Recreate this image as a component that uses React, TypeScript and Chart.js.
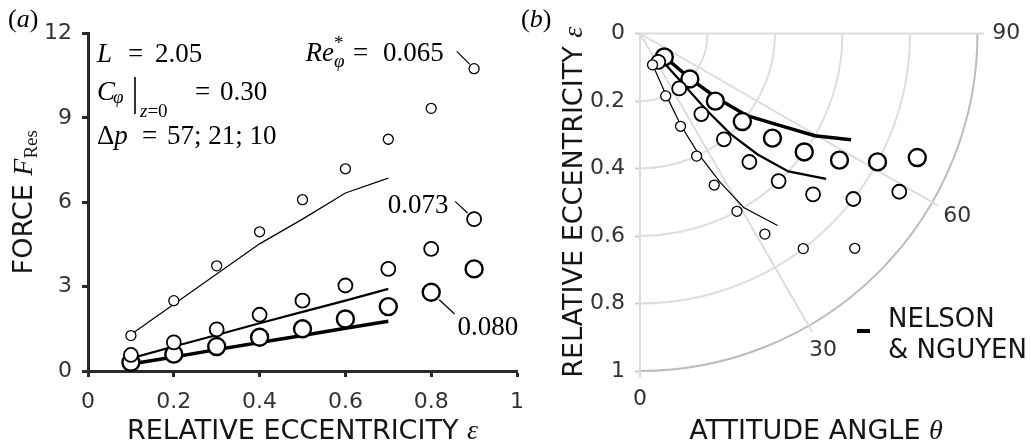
import React, { useEffect, useRef } from 'react';
import { Chart, registerables } from 'chart.js';

Chart.register(...registerables);

// ---------------- Panel (a): force vs relative eccentricity ----------------
const ECC = [0.1, 0.2, 0.3, 0.4, 0.5, 0.6, 0.7, 0.8, 0.9];
const F_RE065 = [1.26, 2.5, 3.74, 4.95, 6.09, 7.19, 8.24, 9.34, 10.75];
const F_RE073 = [0.57, 1.02, 1.48, 2.0, 2.5, 3.04, 3.63, 4.34, 5.4];
const F_RE080 = [0.31, 0.6, 0.87, 1.2, 1.5, 1.85, 2.29, 2.8, 3.63];
const NN_ECC = [0.1, 0.2, 0.3, 0.4, 0.5, 0.6, 0.7];
const NN_F_RE065 = [1.3, 2.37, 3.45, 4.52, 5.4, 6.33, 6.86];
const NN_F_RE073 = [0.45, 0.87, 1.28, 1.7, 2.1, 2.5, 2.92];
const NN_F_RE080 = [0.25, 0.5, 0.76, 1.01, 1.26, 1.52, 1.77];
const X_TICKS_A = [0, 0.2, 0.4, 0.6, 0.8, 1];
const Y_TICKS_A = [0, 3, 6, 9, 12];
const RE_LABELS = ['0.065', '0.073', '0.080'];

// ---------------- Panel (b): attitude angle (polar) ----------------
const THETA_RE065 = [21.8, 22.4, 23.6, 24.8, 26.1, 28.6, 31.9, 37.2, 45.0];
const THETA_RE073 = [32.8, 35.5, 37.3, 38.4, 40.4, 43.2, 47.1, 52.2, 58.6];
const THETA_RE080 = [46.0, 47.6, 48.1, 49.3, 51.7, 54.2, 57.6, 61.6, 65.9];
const NN_THETA_RE065 = [22.0, 23.0, 24.0, 26.0, 28.3, 30.8, 35.6];
const NN_THETA_RE073 = [39.0, 40.5, 41.0, 42.0, 44.2, 47.1, 52.0];
const NN_THETA_RE080 = [46.5, 48.0, 50.0, 52.5, 56.8, 59.7, 63.3];
const ECC_TICKS_B = [0, 0.2, 0.4, 0.6, 0.8, 1];
const ANGLE_TICKS_B = [0, 30, 60, 90];

const SANS = '"DejaVu Sans", Verdana, sans-serif';
const SERIF = '"Liberation Serif", "Times New Roman", serif';
const it = (s: number) => `italic ${s}px ${SERIF}`;
const rm = (s: number) => `${s}px ${SERIF}`;
const sans = (s: number) => `${s}px ${SANS}`;
const TICK_COLOR = '#333333';
const TITLE_COLOR = '#151515';

type Run = { t: string; font: string; dy?: number; dx?: number };
function runsWidth(ctx: CanvasRenderingContext2D, runs: Run[]) {
  let w = 0;
  for (const r of runs) {
    ctx.font = r.font;
    w += ctx.measureText(r.t).width + (r.dx || 0);
  }
  return w;
}
function drawRuns(ctx: CanvasRenderingContext2D, x: number, y: number, runs: Run[]) {
  let cx = x;
  for (const r of runs) {
    ctx.font = r.font;
    cx += r.dx || 0;
    ctx.fillText(r.t, cx, y + (r.dy || 0));
    cx += ctx.measureText(r.t).width;
  }
  return cx;
}

const pts = (xs: number[], ys: number[]) => xs.map((x, i) => ({ x, y: ys[i] }));
const polar = (eps: number[], th: number[]) =>
  eps.map((e, i) => ({ x: e * Math.sin((th[i] * Math.PI) / 180), y: e * Math.cos((th[i] * Math.PI) / 180) }));

const circleStyle = (size: 0 | 1 | 2) => {
  const r = [5, 7, 8.5][size];
  const w = [1.3, 1.8, 2.4][size];
  return {
    showLine: false,
    pointRadius: r,
    pointBorderWidth: w,
    pointBackgroundColor: '#ffffff',
    pointBorderColor: '#000000',
    backgroundColor: '#ffffff',
    borderColor: '#000000',
    clip: false as any,
    order: 0,
  };
};
const lineStyle = (size: 0 | 1 | 2) => ({
  showLine: true,
  pointRadius: 0,
  borderWidth: [1.2, 2.2, 3.5][size],
  borderColor: '#000000',
  backgroundColor: '#000000',
  fill: false,
  tension: 0,
  clip: false as any,
  order: 1,
});

const tickFont = { family: 'DejaVu Sans', size: 22 };
const plainLabel = (v: any) => String(v);

const annotPluginA = {
  id: 'annotA',
  afterDraw(chart: any) {
    const { ctx, chartArea: ca, scales } = chart;
    const xs = scales.x;
    const ys = scales.y;
    const L = ca.left;
    const T = ca.top;
    ctx.save();
    ctx.fillStyle = '#000';
    ctx.strokeStyle = '#000';
    ctx.textBaseline = 'alphabetic';
    ctx.textAlign = 'left';
    const put = (t: string, font: string, x: number, y: number) => {
      ctx.font = font;
      ctx.fillText(t, x, y);
    };
    // panel label
    drawRuns(ctx, 8, 27, [
      { t: '(', font: rm(26) },
      { t: 'a', font: it(26) },
      { t: ')', font: rm(26) },
    ]);
    // parameter block
    put('L', it(27), L + 9, T + 28.5);
    put('=', rm(27), L + 40, T + 28.5);
    put('2.05', rm(27), L + 67, T + 28.5);

    put('C', it(27), L + 9, T + 66.5);
    put('φ', it(19), L + 25, T + 69.5);
    ctx.lineWidth = 1.6;
    ctx.beginPath();
    ctx.moveTo(L + 47, T + 43.5);
    ctx.lineTo(L + 47, T + 80.5);
    ctx.stroke();
    drawRuns(ctx, L + 52, T + 83.5, [
      { t: 'z', font: it(19) },
      { t: '=0', font: rm(19) },
    ]);
    put('=', rm(27), L + 107, T + 66.5);
    put('0.30', rm(27), L + 132, T + 66.5);

    drawRuns(ctx, L + 9, T + 110.5, [
      { t: 'Δ', font: rm(27) },
      { t: 'p', font: it(27) },
    ]);
    put('=', rm(27), L + 54, T + 110.5);
    put('57; 21; 10', rm(27), L + 79, T + 110.5);

    // leader lines
    ctx.lineWidth = 1.2;
    const lead = (ev: number, fv: number, dx: number, dy: number, r0: number, r1: number) => {
      const cx = xs.getPixelForValue(ev);
      const cy = ys.getPixelForValue(fv);
      const n = Math.hypot(dx, dy);
      const ux = dx / n;
      const uy = dy / n;
      ctx.beginPath();
      ctx.moveTo(cx + ux * r0, cy + uy * r0);
      ctx.lineTo(cx + ux * r1, cy + uy * r1);
      ctx.stroke();
      return { x: cx + ux * r1, y: cy + uy * r1 };
    };
    const e1 = lead(ECC[8], F_RE065[8], -1, -1, 6, 24.5);
    const rx = e1.x - 8.7;
    const by = e1.y + 10;
    put(RE_LABELS[0], rm(27), rx - 65, by);
    put('=', rm(27), rx - 95, by);
    put('*', rm(19), rx - 114, by - 12);
    put('φ', it(19), rx - 114, by + 6);
    ctx.textAlign = 'right';
    put('Re', it(27), rx - 114, by);

    const e2 = lead(ECC[8], F_RE073[8], -0.73, -0.68, 9, 26);
    put(RE_LABELS[1], rm(27), e2.x - 6.7, e2.y + 12);
    ctx.textAlign = 'left';
    const e3 = lead(ECC[7], F_RE080[7], 0.73, 0.68, 11, 32);
    put(RE_LABELS[2], rm(27), e3.x + 3, e3.y + 21);

    // axis titles
    ctx.fillStyle = TITLE_COLOR;
    const runsX: Run[] = [
      { t: 'RELATIVE ECCENTRICITY ', font: sans(27) },
      { t: 'ε', font: it(28) },
    ];
    const wx = runsWidth(ctx, runsX);
    drawRuns(ctx, (ca.left + ca.right) / 2 - wx / 2, 439, runsX);

    ctx.save();
    ctx.translate(31.7, (ca.top + ca.bottom) / 2);
    ctx.rotate(-Math.PI / 2);
    const runsY: Run[] = [
      { t: 'FORCE ', font: sans(27) },
      { t: 'F', font: it(28) },
      { t: 'Res', font: rm(19), dy: 5 },
    ];
    const wy = runsWidth(ctx, runsY);
    drawRuns(ctx, -wy / 2, 0, runsY);
    ctx.restore();
    ctx.restore();
  },
};

const polarPluginB = {
  id: 'polarB',
  beforeDatasetsDraw(chart: any) {
    const { ctx, scales } = chart;
    const cx = scales.x.getPixelForValue(0);
    const cy = scales.y.getPixelForValue(0);
    const R = scales.y.getPixelForValue(1) - cy;
    ctx.save();
    ctx.lineWidth = 2;
    ECC_TICKS_B.filter((r) => r > 0).forEach((r) => {
      ctx.beginPath();
      ctx.strokeStyle = r === 1 ? '#bcbcbc' : '#dedede';
      ctx.arc(cx, cy, r * R, 0, Math.PI / 2);
      ctx.stroke();
    });
    ANGLE_TICKS_B.forEach((a) => {
      const t = (a * Math.PI) / 180;
      ctx.beginPath();
      ctx.strokeStyle = '#dcdcdc';
      ctx.moveTo(cx, cy);
      ctx.lineTo(cx + 1.02 * R * Math.sin(t), cy + 1.02 * R * Math.cos(t));
      ctx.stroke();
    });
    ctx.restore();
  },
  afterDraw(chart: any) {
    const { ctx, chartArea: ca, scales } = chart;
    const cx = scales.x.getPixelForValue(0);
    const cy = scales.y.getPixelForValue(0);
    const R = scales.y.getPixelForValue(1) - cy;
    ctx.save();
    // angle labels
    ctx.fillStyle = TICK_COLOR;
    ctx.font = sans(22);
    ctx.textAlign = 'center';
    ctx.textBaseline = 'middle';
    ANGLE_TICKS_B.forEach((a) => {
      const t = (a * Math.PI) / 180;
      const rr = 1.085 * R;
      ctx.fillText(String(a), cx + rr * Math.sin(t), cy + rr * Math.cos(t));
    });
    ctx.textAlign = 'left';
    ctx.textBaseline = 'alphabetic';
    // panel label
    ctx.fillStyle = '#000';
    drawRuns(ctx, 1, 27, [
      { t: '(', font: rm(26) },
      { t: 'b', font: it(26) },
      { t: ')', font: rm(26) },
    ]);
    // legend
    ctx.fillStyle = '#000';
    ctx.fillRect(ca.left + 217, 329, 13, 4);
    ctx.fillStyle = TITLE_COLOR;
    ctx.font = sans(26);
    ctx.fillText('NELSON', ca.left + 248, 326.7);
    ctx.fillText('& NGUYEN', ca.left + 248, 358.3);
    // axis titles
    const runsX: Run[] = [
      { t: 'ATTITUDE ANGLE ', font: sans(27) },
      { t: 'θ', font: it(28) },
    ];
    const wx = runsWidth(ctx, runsX);
    drawRuns(ctx, ca.left + 176 - wx / 2, 439, runsX);

    ctx.save();
    ctx.translate(ca.left - 58.5, (ca.top + ca.bottom) / 2);
    ctx.rotate(-Math.PI / 2);
    const runsY: Run[] = [
      { t: 'RELATIVE ECCENTRICITY ', font: sans(27) },
      { t: 'ε', font: it(28) },
    ];
    const wy = runsWidth(ctx, runsY);
    drawRuns(ctx, -wy / 2, 0, runsY);
    ctx.restore();
    ctx.restore();
  },
};

export default function App() {
  const refA = useRef<HTMLCanvasElement>(null);
  const refB = useRef<HTMLCanvasElement>(null);

  useEffect(() => {
    const chartA = new Chart(refA.current as HTMLCanvasElement, {
      type: 'scatter',
      data: {
        datasets: [
          { label: 'Re 0.065', data: pts(ECC, F_RE065), ...circleStyle(0) },
          { label: 'Re 0.073', data: pts(ECC, F_RE073), ...circleStyle(1) },
          { label: 'Re 0.080', data: pts(ECC, F_RE080), ...circleStyle(2) },
          { label: 'NN 0.065', data: pts(NN_ECC, NN_F_RE065), ...lineStyle(0) },
          { label: 'NN 0.073', data: pts(NN_ECC, NN_F_RE073), ...lineStyle(1) },
          { label: 'NN 0.080', data: pts(NN_ECC, NN_F_RE080), ...lineStyle(2) },
        ] as any,
      },
      options: {
        responsive: false,
        animation: false,
        devicePixelRatio: 1,
        layout: { padding: { top: 33.5, right: 13, left: 0, bottom: 0 } },
        plugins: { legend: { display: false }, title: { display: false }, tooltip: { enabled: false } },
        events: [],
        scales: {
          x: {
            type: 'linear',
            min: 0,
            max: 1,
            afterBuildTicks: (s: any) => {
              s.ticks = X_TICKS_A.map((v) => ({ value: v }));
            },
            afterFit: (s: any) => {
              s.height = 77;
              s.paddingLeft = 0;
              s.paddingRight = 0;
            },
            grid: {
              display: true,
              drawOnChartArea: false,
              drawTicks: true,
              tickLength: 6,
              tickWidth: 3,
              tickColor: '#2a2a2a',
              color: '#2a2a2a',
            },
            border: { display: true, color: '#2a2a2a', width: 3 },
            ticks: {
              font: tickFont,
              color: TICK_COLOR,
              padding: 12,
              maxRotation: 0,
              autoSkip: false,
              callback: plainLabel,
            },
          },
          y: {
            type: 'linear',
            min: 0,
            max: 12,
            afterBuildTicks: (s: any) => {
              s.ticks = Y_TICKS_A.map((v) => ({ value: v }));
            },
            afterFit: (s: any) => {
              s.width = 88;
              s.paddingTop = 0;
              s.paddingBottom = 0;
            },
            grid: {
              display: true,
              drawOnChartArea: false,
              drawTicks: true,
              tickLength: 6,
              tickWidth: 3,
              tickColor: '#2a2a2a',
              color: '#2a2a2a',
            },
            border: { display: true, color: '#2a2a2a', width: 3 },
            ticks: { font: tickFont, color: TICK_COLOR, padding: 10, autoSkip: false, callback: plainLabel },
          },
        },
      } as any,
      plugins: [annotPluginA],
    });

    const chartB = new Chart(refB.current as HTMLCanvasElement, {
      type: 'scatter',
      data: {
        datasets: [
          { label: 'Re 0.065', data: polar(ECC, THETA_RE065), ...circleStyle(0) },
          { label: 'Re 0.073', data: polar(ECC, THETA_RE073), ...circleStyle(1) },
          { label: 'Re 0.080', data: polar(ECC, THETA_RE080), ...circleStyle(2) },
          { label: 'NN 0.065', data: polar(NN_ECC, NN_THETA_RE065), ...lineStyle(0) },
          { label: 'NN 0.073', data: polar(NN_ECC, NN_THETA_RE073), ...lineStyle(1) },
          { label: 'NN 0.080', data: polar(NN_ECC, NN_THETA_RE080), ...lineStyle(2) },
        ] as any,
      },
      options: {
        responsive: false,
        animation: false,
        devicePixelRatio: 1,
        layout: { padding: { top: 33.5, right: 53.5, left: 0, bottom: 77 } },
        plugins: { legend: { display: false }, title: { display: false }, tooltip: { enabled: false } },
        events: [],
        scales: {
          x: {
            type: 'linear',
            min: 0,
            max: 1,
            display: false,
          },
          y: {
            type: 'linear',
            min: 0,
            max: 1,
            reverse: true,
            afterBuildTicks: (s: any) => {
              s.ticks = ECC_TICKS_B.map((v) => ({ value: v }));
            },
            afterFit: (s: any) => {
              s.width = 120;
              s.paddingTop = 0;
              s.paddingBottom = 0;
            },
            grid: {
              display: true,
              drawOnChartArea: false,
              drawTicks: true,
              tickLength: 5,
              tickWidth: 2,
              tickColor: '#cfcfcf',
              color: '#cfcfcf',
            },
            border: { display: false },
            ticks: { font: tickFont, color: TICK_COLOR, padding: 10, autoSkip: false, callback: plainLabel },
          },
        },
      } as any,
      plugins: [polarPluginB],
    });

    return () => {
      chartA.destroy();
      chartB.destroy();
    };
  }, []);

  return (
    <div style={{ position: 'fixed', left: 0, top: 0, width: 1031, height: 448, background: '#ffffff' }}>
      <canvas
        ref={refA}
        width={530}
        height={448}
        style={{ position: 'absolute', left: 0, top: 0, width: 530, height: 448 }}
      />
      <canvas
        ref={refB}
        width={511}
        height={448}
        style={{ position: 'absolute', left: 520, top: 0, width: 511, height: 448 }}
      />
    </div>
  );
}
